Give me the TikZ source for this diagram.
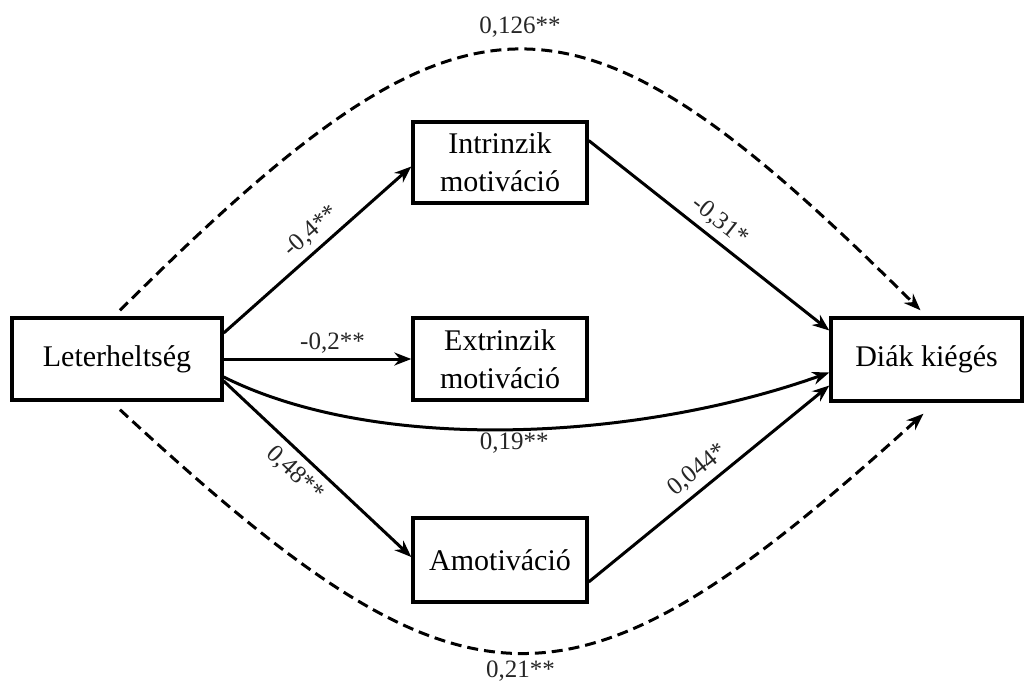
\documentclass[tikz,border=0pt]{standalone}
\usepackage{fontspec}
\setmainfont{Liberation Serif}
\usetikzlibrary{arrows.meta,calc}
\begin{document}
\begin{tikzpicture}[x=1pt,y=-1pt,
  box/.style={draw,line width=3.4pt,rectangle,align=center,font=\fontsize{30}{38}\selectfont,inner sep=0pt},
  lab/.style={font=\fontsize{25}{30}\selectfont,inner sep=1pt,text=black!85},
  arr/.style={line width=3pt,-{Stealth[length=17pt,width=13pt]}},
  dsh/.style={arr,dash pattern=on 11pt off 6pt}]
\useasboundingbox (0,0) rectangle (1030,688);
\node[box,minimum width=210pt,minimum height=82pt] (L) at (117,359) {Leterheltség};
\node[box,minimum width=174pt,minimum height=81pt] (I) at (500,162.5) {Intrinzik\\motiváció};
\node[box,minimum width=174pt,minimum height=82pt] (E) at (500,359) {Extrinzik\\motiváció};
\node[box,minimum width=174pt,minimum height=84pt] (A) at (500,560) {Amotiváció};
\node[box,minimum width=191pt,minimum height=83pt] (D) at (926.5,359.5) {Diák kiégés};

\draw[arr] ([yshift=26pt]L.east) -- ([yshift=-4pt]I.west)
  node[lab,pos=0.53,sloped,above=5pt]{-0,4**};
\draw[arr] (L.east) -- (E.west) node[lab,pos=0.58,above=3pt]{-0,2**};
\draw[arr] ([yshift=-22pt]L.east) -- ([yshift=3pt]A.west)
  node[lab,pos=0.45,sloped,below=6pt]{0,48**};
\draw[arr] ([yshift=22pt]I.east) -- ([yshift=29pt]D.west)
  node[lab,pos=0.5,sloped,above=5pt]{-0,31*};
\draw[arr] ([yshift=-22pt]A.east) -- ([yshift=-26pt]D.west)
  node[lab,pos=0.5,sloped,above=5pt]{0,044*};
\draw[arr] ([yshift=-18pt]L.east) .. controls (380,455) and (640,440) .. ([yshift=-13pt]D.west)
  node[lab,pos=0.5,below=1pt]{0,19**};
\draw[dsh] ($(L.north)+(3,-6)$) .. controls (469,-37) and (571,-37) .. ($(D.north)+(-6,-6)$)
  node[lab,pos=0.5,above=10pt]{0,126**};
\draw[dsh] ($(L.south)+(3,8)$) .. controls (469,733) and (571,733) .. ($(D.south)+(-3,11)$)
  node[lab,pos=0.5,below=6pt]{0,21**};
\end{tikzpicture}
\end{document}
